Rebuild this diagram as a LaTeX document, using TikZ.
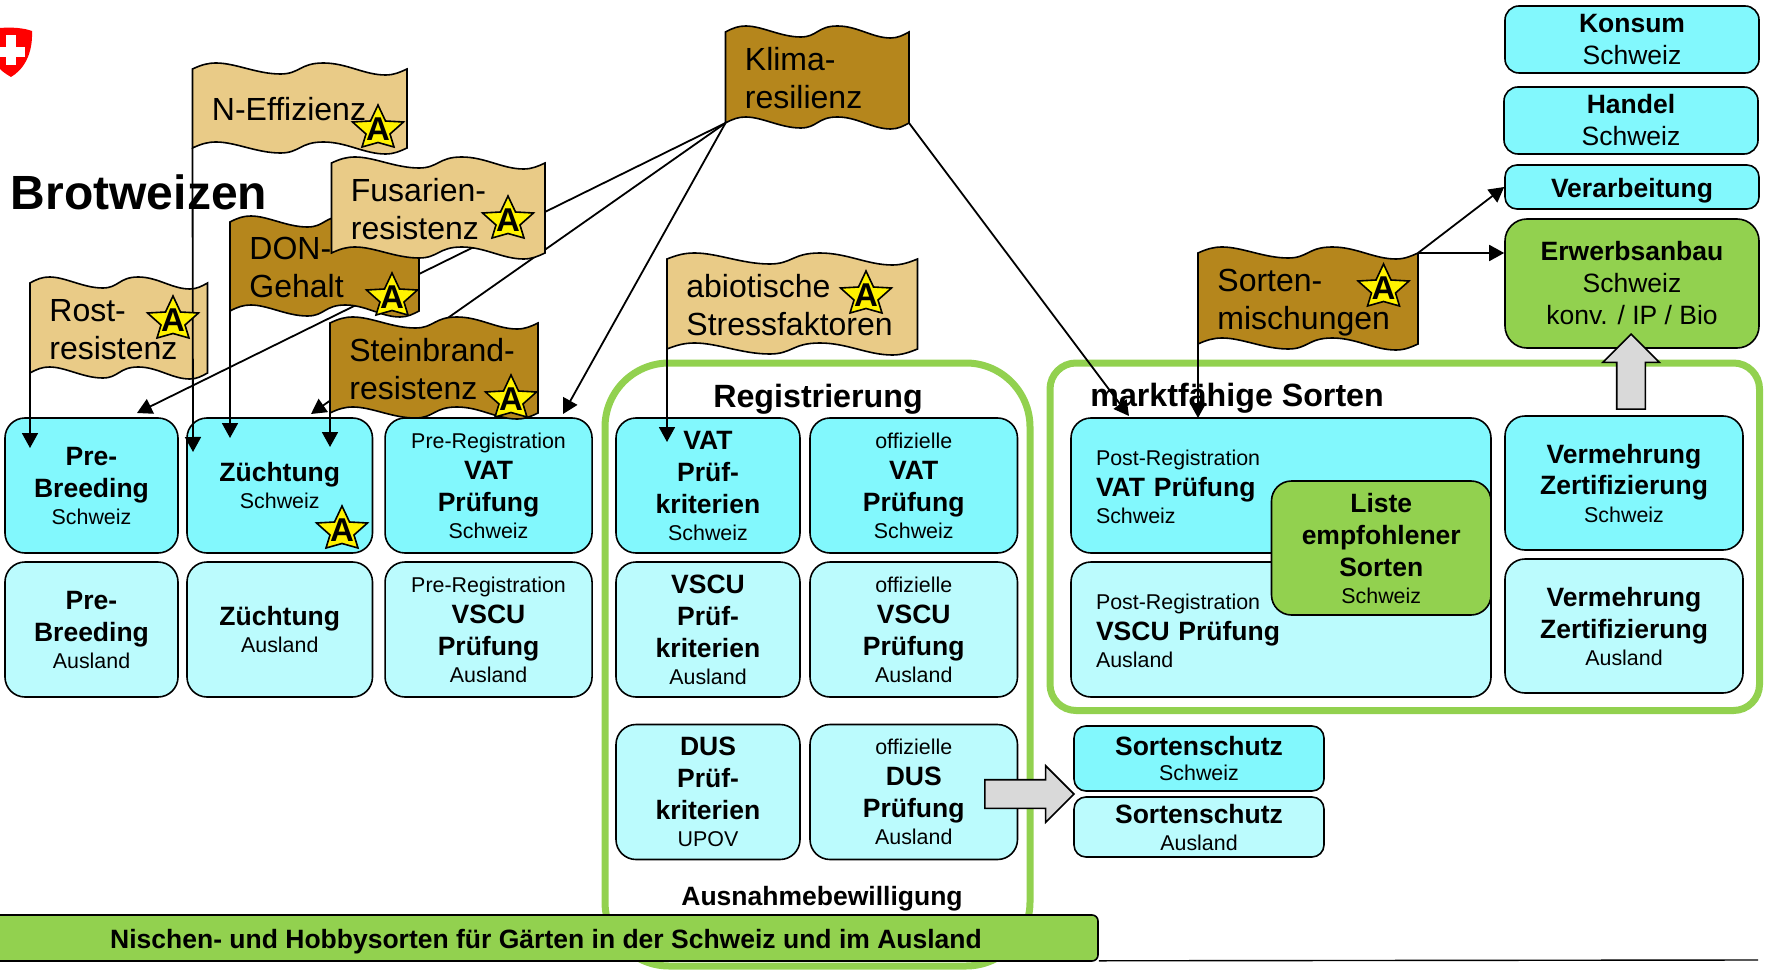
\documentclass[tikz,border=0pt]{standalone}
\usepackage{fontspec}
\setmainfont{Liberation Sans}
\usetikzlibrary{arrows.meta,shapes.arrows}
\definecolor{cyanhi}{HTML}{82F8FD}
\definecolor{cyanlo}{HTML}{BBFBFD}
\definecolor{leaf}{HTML}{92D14F}
\definecolor{flaglight}{HTML}{E9CB87}
\definecolor{flagdark}{HTML}{B5861C}
\newcommand{\smalltxt}{\fontsize{10.7}{13}\selectfont\mdseries}
\newcommand{\plaintxt}{\mdseries}
\tikzset{
    block/.style = {draw, rectangle, rounded corners=10pt, line width=.8pt,
        inner sep=0pt, align=center,
        font=\fontsize{13.25}{16}\selectfont\bfseries},
    blockch/.style = {block, fill=cyanhi},
    blockaus/.style = {block, fill=cyanlo},
    blockgreen/.style = {block, fill=leaf},
    boxsize/.style 2 args = {minimum width=#1*0.5pt, minimum height=#2*0.5pt},
    lowered/.style = {execute at begin node={\rule{0pt}{#1}}},
    lowered/.default = 13pt,
    frame/.style = {draw=leaf, rectangle, line width=3.5pt, inner sep=0pt},
    heading/.style = {anchor=base, inner sep=0pt, font=\fontsize{16.1}{19}\selectfont\bfseries},
    arrow/.style = {draw, line width=.9pt, -{Triangle[length=7.5pt,width=8pt]}},
    bigarrow/.style = {draw, single arrow, fill=black!15, line width=.8pt, inner sep=6.75pt,
        single arrow tip angle=90, single arrow head extend=7pt,
        minimum width=27.5pt, anchor=tip},
    flagline/.style = {draw, line width=.8pt},
    flagtext/.style = {anchor=west, align=left, inner sep=0pt,
        font=\fontsize{16}{19}\selectfont},
    starmark/.pic = {
        \draw[fill=yellow, line width=.8pt] (0,-22) -- (7.5,-6) -- (25.5,-5) -- (12,7) -- (16,20)
            -- (0,15.5) -- (-16,20) -- (-12,7) -- (-25.5,-5) -- (-7.5,-6) -- cycle;
        \node[inner sep=0pt, font=\fontsize{16.5}{17}\selectfont\bfseries] (-a) at (0,2) {A};
    }
}
% name, left, top, width, height, fill, text
\newcommand{\flagnode}[7]{%
    \begin{scope}[shift={(#2,#3)}]
        \def\W{#4}\def\H{#5}
        \draw[flagline, fill=#6] (0,0)
            .. controls (.04*\W,-4) and (.07*\W,-6) .. (.11*\W,-6)
            .. controls (.2*\W,-6) and (.3*\W,5) .. (.41*\W,5)
            .. controls (.5*\W,5) and (.5*\W,-6) .. (.61*\W,-6)
            .. controls (.72*\W,-6) and (.8*\W,6) .. (.9*\W,6)
            .. controls (.94*\W,6) and (.97*\W,3) .. (\W,0)
            -- (\W,\H)
            .. controls (.97*\W,\H+3) and (.94*\W,\H+6) .. (.9*\W,\H+6)
            .. controls (.8*\W,\H+6) and (.72*\W,\H-6) .. (.61*\W,\H-6)
            .. controls (.5*\W,\H-6) and (.5*\W,\H+5) .. (.41*\W,\H+5)
            .. controls (.3*\W,\H+5) and (.2*\W,\H-6) .. (.11*\W,\H-6)
            .. controls (.07*\W,\H-6) and (.04*\W,\H-4) .. (0,\H) -- cycle;
        \node[anchor=north west, inner sep=0pt, outer sep=0pt, boxsize={#4}{#5}] (#1) at (0,0) {};
        \node[flagtext] (#1text) at (19,#5/2+4.5) {\strut #7\strut};
    \end{scope}
}

\begin{document}
\begin{tikzpicture}[x=0.5pt, y=-0.5pt, node distance=72pt]
    \useasboundingbox (0,0) rectangle (1766,973);

    % logo
    \fill[red] (0,28) .. controls (12,27) and (24,28) .. (32,31)
        .. controls (33,55) and (23,70) .. (11,77) .. controls (6,74) and (3,72) .. (0,69) -- cycle;
    \fill[white] (0,47) rectangle (25,57);
    \fill[white] (6,35) rectangle (16,65);

    \node[heading, font=\fontsize{24}{28}\selectfont\bfseries] (title) at (139,210) {Brotweizen};

    % frames
    \node[frame, rounded corners=32pt, boxsize={425}{603}] (regframe) at (817.5,664.5) {};
    \node[frame, rounded corners=13pt, boxsize={709.5}{347.5}] (marketframe) at (1404.75,536.75) {};
    \node[heading] (regtitle) at (818,407) {Registrierung};
    \node[heading, anchor=base west] (markettitle) at (1090,406) {marktfähige Sorten};
    \node[anchor=base, inner sep=0pt, font=\fontsize{13.25}{16}\selectfont\bfseries] (exception) at (822,905) {Ausnahmebewilligung};

    % left columns
    \node[blockch, lowered, boxsize={173}{135}] (prebreedch) at (91.5,485.5) {Pre-\\Breeding\\[-2.5pt]{\smalltxt Schweiz}};
    \node[blockaus, lowered, boxsize={173}{135}, below of=prebreedch] (prebreedaus) {Pre-\\Breeding\\[-2.5pt]{\smalltxt Ausland}};
    \node[blockch, lowered, boxsize={185.5}{135}, right of=prebreedch, node distance=94.125pt] (breedch) {Züchtung\\[-2.5pt]{\smalltxt Schweiz}};
    \node[blockaus, lowered, boxsize={185.5}{135}, below of=breedch] (breedaus) {Züchtung\\[-2.5pt]{\smalltxt Ausland}};
    \node[blockch, boxsize={207}{135}, right of=breedch, node distance=104.4pt] (prevatch) {{\smalltxt Pre-Registration}\\[-.5pt]VAT\\Prüfung\\[-2.5pt]{\smalltxt Schweiz}};
    \node[blockaus, boxsize={207}{135}, below of=prevatch] (prevscuaus) {{\smalltxt Pre-Registration}\\[-.5pt]VSCU\\Prüfung\\[-2.5pt]{\smalltxt Ausland}};

    % registration
    \node[blockch, lowered, boxsize={184}{135}] (critvat) at (708,485.5) {VAT\\Prüf-\\kriterien\\[-2.5pt]{\smalltxt Schweiz}};
    \node[blockaus, lowered, boxsize={184}{135}, below of=critvat] (critvscu) {VSCU\\Prüf-\\kriterien\\[-2.5pt]{\smalltxt Ausland}};
    \node[blockaus, lowered, boxsize={184}{135}] (critdus) at (708,792) {DUS\\Prüf-\\kriterien\\[-2.5pt]{\smalltxt UPOV}};
    \node[blockch, boxsize={207.5}{135}] (offvat) at (913.75,485.5) {{\smalltxt offizielle}\\[-.5pt]VAT\\Prüfung\\[-2.5pt]{\smalltxt Schweiz}};
    \node[blockaus, boxsize={207.5}{135}, below of=offvat] (offvscu) {{\smalltxt offizielle}\\[-.5pt]VSCU\\Prüfung\\[-2.5pt]{\smalltxt Ausland}};
    \node[blockaus, boxsize={207.5}{135}] (offdus) at (913.75,792) {{\smalltxt offizielle}\\[-.5pt]DUS\\Prüfung\\[-2.5pt]{\smalltxt Ausland}};

    % market
    \node[blockch, lowered=9pt, boxsize={420}{135}, align=left, text width=185pt] (postvat) at (1281,485.5) {{\smalltxt Post-Registration}\\[-.5pt]VAT Prüfung\\[-2.5pt]{\smalltxt Schweiz}};
    \node[blockaus, lowered=9pt, boxsize={420}{135}, align=left, text width=185pt, below of=postvat] (postvscu) {{\smalltxt Post-Registration}\\[-.5pt]VSCU Prüfung\\[-2.5pt]{\smalltxt Ausland}};
    \node[blockgreen, boxsize={219.5}{134}] (recommended) at (1381.25,548) {Liste\\empfohlener\\Sorten\\[-2.5pt]{\smalltxt Schweiz}};
    \node[blockch, lowered, boxsize={238}{134}] (multch) at (1624,483) {Vermehrung\\Zertifizierung\\[-2.5pt]{\smalltxt Schweiz}};
    \node[blockaus, lowered, boxsize={238}{134}, below of=multch, node distance=71.5pt] (multaus) {Vermehrung\\Zertifizierung\\[-2.5pt]{\smalltxt Ausland}};

    % protection
    \node[blockch, lowered, rounded corners=6pt, boxsize={250}{65}] (protch) at (1199,758.5) {Sortenschutz\\[-3.5pt]{\smalltxt Schweiz}};
    \node[blockaus, lowered, rounded corners=6pt, boxsize={250}{60}] (protaus) at (1199,827) {Sortenschutz\\[-2.5pt]{\smalltxt Ausland}};

    % top right
    \node[blockch, lowered, rounded corners=7pt, boxsize={254}{67}] (consume) at (1632,39.5) {Konsum\\{\plaintxt Schweiz}};
    \node[blockch, lowered, rounded corners=7pt, boxsize={254}{67}] (trade) at (1631,120.5) {Handel\\{\plaintxt Schweiz}};
    \node[blockch, lowered=13.8pt, rounded corners=6pt, boxsize={254}{44}] (process) at (1632,187) {Verarbeitung};
    \node[blockgreen, lowered, rounded corners=11pt, boxsize={254}{129}] (farming) at (1632,283.5) {Erwerbsanbau\\{\plaintxt Schweiz}\\{\plaintxt konv. / IP / Bio}};

    % bottom bar
    \node[blockgreen, lowered=12.8pt, rounded corners=3pt, boxsize={1104}{46}] (niche) at (546,938) {Nischen- und Hobbysorten für Gärten in der Schweiz und im Ausland};
    \coordinate (lineend) at (1758,960);
    \draw[line width=.7pt] (niche.south east) ++(0,-1) -- (lineend);

    % big arrows
    \node[bigarrow, shape border rotate=90, minimum height=37.5pt] (uparrow) at (1631,333) {};
    \node[bigarrow, minimum height=44.5pt] (rightarrow) at (1075,794) {};

    % tips of the slanted arrows
    \coordinate (tipprebreed) at (137,413);
    \coordinate (tipbreed) at (311,414);
    \coordinate (tipprevat) at (563,414);
    \coordinate (tippostvat) at (1129,416);

    % tips of the flag poles
    \coordinate (tiprust) at (30,448);
    \coordinate (tipnitrogen) at (193,452);
    \coordinate (tipdon) at (230,438);
    \coordinate (tipbunt) at (330,447);
    \coordinate (tipstress) at (667,442);
    \coordinate (tipmix) at (1198,418);

    \flagnode{climate}{725.5}{32}{183.5}{91}{flagdark}{Klima-\\resilienz}
    \draw[arrow] (climate.south west) -- (tipprebreed);
    \draw[arrow] (climate.south west) -- (tipbreed);
    \draw[arrow] (climate.south west) -- (tipprevat);
    \draw[arrow] (climate.south east) -- (tippostvat);

    \flagnode{rust}{30}{283}{177.5}{90}{flaglight}{Rost-\\resistenz}
    \flagnode{nitrogen}{192.5}{69}{214.5}{79}{flaglight}{N-Effizienz}
    \flagnode{don}{230}{222}{189}{89}{flagdark}{DON-\\Gehalt}
    \flagnode{fusarium}{331.5}{163}{213.5}{90}{flaglight}{Fusarien-\\resistenz}
    \flagnode{bunt}{330}{323}{208}{90}{flagdark}{Steinbrand-\\resistenz}
    \flagnode{stress}{667}{259}{250.5}{90}{flaglight}{abiotische\\Stressfaktoren}
    \flagnode{mix}{1198}{253}{220}{91}{flagdark}{Sorten-\\mischungen}

    \draw[arrow] (rust.south west) -- (tiprust);
    \draw[arrow] (nitrogen.south west) -- (tipnitrogen);
    \draw[arrow] (don.south west) -- (tipdon);
    \draw[arrow] (bunt.south west) -- (tipbunt);
    \draw[arrow] (stress.south west) -- (tipstress);
    \draw[arrow] (mix.south west) -- (tipmix);
    \draw[arrow] (mix.north east) -- (process.west);
    \draw[arrow] (mix.north east) -- (farming.west |- mix.north east);

    \pic (rustmark) at (173,318) {starmark};
    \pic (nitrogenmark) at (378,127) {starmark};
    \pic (donmark) at (392,295) {starmark};
    \pic (fusariummark) at (508,218) {starmark};
    \pic (buntmark) at (511,397) {starmark};
    \pic (stressmark) at (866,293) {starmark};
    \pic (mixmark) at (1383.5,286) {starmark};
    \pic (breedmark) at (342,528) {starmark};
\end{tikzpicture}
\end{document}
